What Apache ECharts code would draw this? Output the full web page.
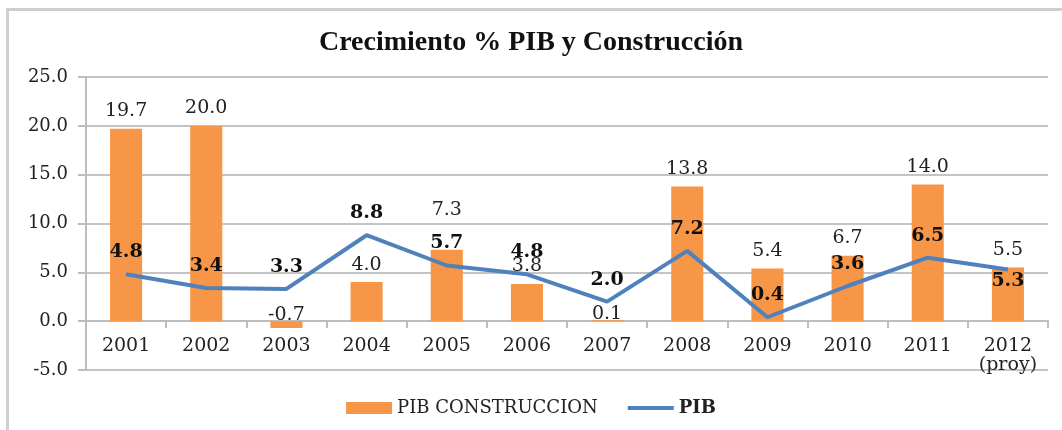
<!DOCTYPE html>
<html>
<head>
<meta charset="utf-8">
<script src="https://cdn.jsdelivr.net/npm/echarts@6/dist/echarts.min.js"></script>
<style>
  html, body { margin: 0; padding: 0; background: #fff; }
  .frame {
    position: absolute; left: 6px; top: 8px; width: 1062px; height: 430px;
    border-left: 3px solid #cfcfcf; border-top: 3px solid #cfcfcf;
  }
  #chart { position: absolute; left: 0; top: 0; width: 1062px; height: 430px; }
</style>
</head>
<body>
<div class="frame"></div>
<div id="chart"></div>
<script>
// categorías (años)
const years = ['2001', '2002', '2003', '2004', '2005', '2006', '2007', '2008', '2009', '2010', '2011', '2012\n(proy)']
// crecimiento % construcción
const construccion = [19.7, 20.0, -0.7, 4.0, 7.3, 3.8, 0.1, 13.8, 5.4, 6.7, 14.0, 5.5]
// crecimiento % PIB
const pib = [4.8, 3.4, 3.3, 8.8, 5.7, 4.8, 2.0, 7.2, 0.4, 3.6, 6.5, 5.3]

const serif = 'DejaVu Serif'
const txt = '#222'

// etiqueta de barra: las pequeñas pegadas al cero, la de 2005 subida para no chocar con el PIB
function barLabel(v, i) {
  if (Math.abs(v) < 1) return { value: v, label: { distance: -3 } }
  if (i === 4) return { value: v, label: { distance: 30 } }
  return v
}

let myChart = echarts.init(document.getElementById('chart'))
myChart.setOption({
  animation: false,
  title: {
    text: 'Crecimiento % PIB y Construcción',
    left: 'center',
    top: 24,
    textStyle: { fontFamily: 'Liberation Serif', fontSize: 28, fontWeight: 'bold', color: '#111' },
  },
  grid: { left: 86, right: 14, top: 77, bottom: 60 },
  legend: {
    bottom: 8,
    left: 'center',
    itemGap: 30,
    itemWidth: 46,
    itemHeight: 12,
    textStyle: { fontFamily: serif, fontSize: 18, color: txt },
    data: [
      { name: 'PIB CONSTRUCCION', icon: 'rect' },
      { name: 'PIB', icon: 'path://M0,0 L46,0 L46,4 L0,4 Z', textStyle: { fontWeight: 'bold' } },
    ],
  },
  xAxis: {
    type: 'category',
    data: years,
    // eje x dibujado sobre la línea del cero
    axisLine: { onZero: false, lineStyle: { color: '#bdbdbd', width: 2 } },
    offset: -49,
    axisTick: { show: true, length: 7, lineStyle: { color: '#bdbdbd', width: 2 } },
    axisLabel: { margin: 16, fontFamily: serif, fontSize: 19, color: txt, lineHeight: 19 },
  },
  yAxis: {
    type: 'value',
    min: -5,
    max: 25,
    interval: 5,
    axisLine: { show: true, lineStyle: { color: '#bdbdbd', width: 2 } },
    axisTick: { show: true, length: 8, lineStyle: { color: '#bdbdbd', width: 2 } },
    splitLine: { lineStyle: { color: '#c4c4c4', width: 2 } },
    axisLabel: {
      margin: 18,
      fontFamily: serif,
      fontSize: 18,
      color: txt,
      formatter: (v) => v.toFixed(1),
    },
  },
  series: [
    {
      name: 'PIB CONSTRUCCION',
      type: 'bar',
      data: construccion.map(barLabel),
      barWidth: '40%',
      itemStyle: { color: '#F79646' },
      label: {
        show: true,
        position: 'top',
        distance: 8,
        fontFamily: serif,
        fontSize: 19,
        color: txt,
        formatter: (p) => p.value.toFixed(1),
      },
    },
    {
      name: 'PIB',
      type: 'line',
      data: pib.map((v, i) => i === pib.length - 1
        ? { value: v, label: { position: 'bottom', distance: 2 } }
        : v),
      symbol: 'circle',
      symbolSize: 1,
      lineStyle: { color: '#4F81BD', width: 4 },
      itemStyle: { color: '#4F81BD' },
      label: {
        show: true,
        position: 'top',
        distance: 12,
        fontFamily: serif,
        fontSize: 19,
        fontWeight: 'bold',
        color: '#111',
        formatter: (p) => p.value.toFixed(1),
      },
      z: 3,
    },
  ],
})
</script>
</body>
</html>
